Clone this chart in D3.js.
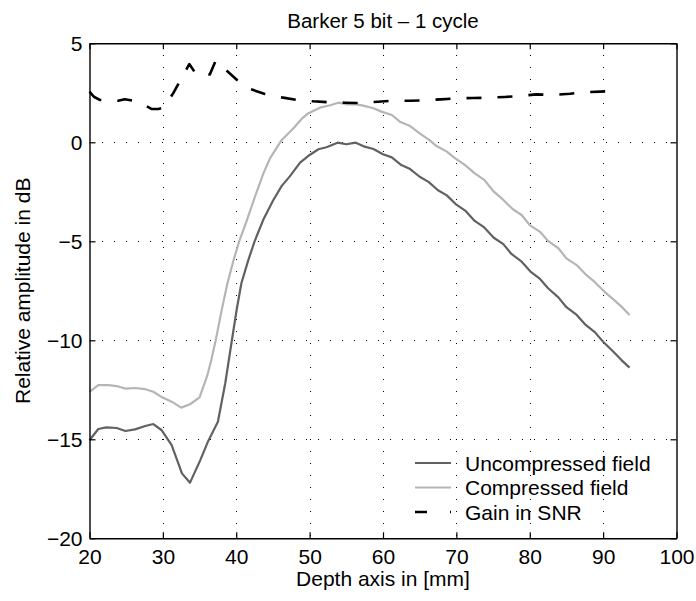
<!DOCTYPE html>
<html>
<head>
<meta charset="utf-8">
<script src="https://cdn.jsdelivr.net/npm/d3@7"></script>
<style>
  html, body { margin: 0; padding: 0; background: #fff; }
  svg { display: block; font-family: "Liberation Sans", Arial, Helvetica, sans-serif; }
</style>
</head>
<body>
<svg width="696" height="601"></svg>
<script>
// Series: [depth in mm, relative amplitude in dB]
const uncompressed = [
  [20, -15.05], [21.2, -14.48], [22.3, -14.4], [23.7, -14.43], [24.9, -14.58],
  [26.2, -14.5], [27.6, -14.33], [28.7, -14.23], [29.8, -14.53], [31.2, -15.29],
  [32.6, -16.72], [33.7, -17.19], [35.1, -16.05], [36.2, -15.07], [37.5, -14.11],
  [38.5, -12.17], [39.2, -10.49], [40.05, -8.47], [40.7, -7.12], [41.6, -6.0],
  [42.5, -5.0], [43.7, -3.9], [45.0, -2.95], [46.2, -2.2], [47.3, -1.72],
  [48.7, -1.03], [50.0, -0.64], [51.2, -0.35], [52.3, -0.25], [53.8, -0.02],
  [55.0, -0.1], [56.3, -0.02], [57.5, -0.22], [58.7, -0.34], [60.0, -0.6],
  [61.2, -0.76], [62.5, -1.15], [63.7, -1.35], [65.0, -1.74], [66.2, -2.0],
  [67.5, -2.42], [68.7, -2.68], [70.0, -3.15], [71.2, -3.45], [72.5, -3.97],
  [73.8, -4.3], [75.1, -4.82], [76.4, -5.14], [77.5, -5.64], [78.9, -6.03],
  [80.1, -6.53], [81.4, -6.9], [82.5, -7.37], [83.9, -7.83], [85.0, -8.33],
  [86.4, -8.72], [87.5, -9.18], [88.9, -9.6], [90.0, -10.07], [91.4, -10.58],
  [92.5, -11.0], [93.6, -11.38]
];

const compressed = [
  [20, -12.6], [21.2, -12.26], [22.6, -12.26], [23.7, -12.31], [24.9, -12.44],
  [26.2, -12.41], [27.6, -12.47], [28.7, -12.6], [29.9, -12.88], [31.2, -13.1],
  [32.5, -13.4], [33.7, -13.23], [35.0, -12.88], [36.0, -11.84], [36.6, -11.0],
  [37.2, -10.0], [38.0, -8.5], [38.8, -7.12], [39.6, -6.0], [40.4, -5.0],
  [41.3, -4.09], [42.5, -2.8], [43.7, -1.57], [44.6, -0.81], [46.2, 0.12],
  [47.8, 0.71], [48.9, 1.18], [49.8, 1.46], [51.4, 1.75], [52.8, 1.87],
  [53.9, 2.0], [55.0, 1.92], [56.2, 1.93], [57.3, 1.85], [58.7, 1.72],
  [59.8, 1.55], [61.2, 1.38], [62.3, 1.04], [63.7, 0.82], [65.0, 0.45],
  [66.2, 0.15], [67.3, -0.19], [68.7, -0.47], [69.8, -0.8], [71.2, -1.15],
  [72.5, -1.57], [73.8, -1.9], [75.0, -2.45], [76.4, -2.91], [77.7, -3.38],
  [78.9, -3.67], [80.0, -4.18], [81.4, -4.52], [82.5, -4.98], [83.9, -5.35],
  [85.0, -5.86], [86.4, -6.2], [87.7, -6.7], [88.8, -7.04], [90.2, -7.55],
  [91.4, -7.93], [92.5, -8.3], [93.6, -8.72]
];

const gainSNR = [
  [20, 2.56], [20.6, 2.3], [21.4, 2.14], [22.6, 2.1], [23.9, 2.1], [24.8, 2.17],
  [26.1, 2.09], [27.4, 1.9], [28.5, 1.68], [29.4, 1.68], [30.1, 1.75],
  [31.4, 2.47], [32.4, 3.15], [33.6, 3.95], [34.6, 3.4], [36.4, 3.43],
  [37.2, 4.12], [38.5, 3.69], [40.1, 3.15], [42.0, 2.68], [43.9, 2.44],
  [46.2, 2.27], [48.2, 2.14], [50.5, 2.07], [52.8, 2.02], [54.8, 2.0],
  [56.8, 1.98], [59.3, 2.05], [61.4, 2.1], [63.7, 2.1], [65.7, 2.12],
  [67.9, 2.17], [70.0, 2.22], [72.3, 2.24], [74.3, 2.25], [76.6, 2.29],
  [78.7, 2.34], [80.9, 2.42], [83.0, 2.39], [85.5, 2.45], [87.3, 2.53],
  [89.6, 2.56], [91.8, 2.6]
];

const xTicks = [20, 30, 40, 50, 60, 70, 80, 90, 100];
const yTicks = [-20, -15, -10, -5, 0, 5];

const seriesNames = ["Uncompressed field", "Compressed field", "Gain in SNR"];
const seriesData = [uncompressed, compressed, gainSNR];

// chart dimensions
const width = 696;
const height = 601;
const margin = { top: 43.3, right: 19.5, bottom: 62.7, left: 89.5 };

const x = d3.scaleLinear([20, 100], [margin.left, width - margin.right]);
const y = d3.scaleLinear([-20, 5], [height - margin.bottom, margin.top]);

const styles = [
  { stroke: "#616161", width: 2.2, dash: null },
  { stroke: "#b5b5b5", width: 2.2, dash: null },
  { stroke: "#000", width: 2.6, dash: "15,16" }
];

const svg = d3.select("svg");

// dotted grid
const grid = svg.append("g").attr("stroke", "#000").attr("stroke-width", 1)
  .attr("stroke-dasharray", "1,11").attr("shape-rendering", "crispEdges");
grid.selectAll("line.v").data(xTicks.slice(1, -1)).join("line")
  .attr("class", "v")
  .attr("x1", d => Math.round(x(d)) + 0.5).attr("x2", d => Math.round(x(d)) + 0.5)
  .attr("y1", y(5)).attr("y2", y(-20));
grid.selectAll("line.h").data(yTicks.slice(1, -1)).join("line")
  .attr("class", "h")
  .attr("y1", d => Math.round(y(d)) + 0.5).attr("y2", d => Math.round(y(d)) + 0.5)
  .attr("x1", x(20)).attr("x2", x(100));

// the curves
const line = d3.line().x(d => x(d[0])).y(d => y(d[1]));
svg.append("g").selectAll("path").data(seriesData).join("path")
  .attr("d", line)
  .attr("fill", "none")
  .attr("stroke", (d, i) => styles[i].stroke)
  .attr("stroke-width", (d, i) => styles[i].width)
  .attr("stroke-dasharray", (d, i) => styles[i].dash)
  .attr("stroke-linejoin", "round");

// axes, ticks pointing inward on all four sides
function styleAxis(g) {
  g.selectAll(".domain").attr("stroke", "#000").attr("stroke-width", 1.4);
  g.selectAll(".tick line").attr("stroke", "#000").attr("stroke-width", 1.2);
  g.selectAll(".tick text").attr("fill", "#000").attr("font-size", 21);
  g.attr("font-family", null);
}

svg.append("g")
  .attr("transform", `translate(0,${y(-20)})`)
  .call(d3.axisBottom(x).tickValues(xTicks).tickSize(-6).tickSizeOuter(0).tickPadding(11))
  .call(styleAxis);
svg.append("g")
  .attr("transform", `translate(0,${y(5)})`)
  .call(d3.axisTop(x).tickValues(xTicks).tickSize(-6).tickSizeOuter(0).tickFormat(""))
  .call(styleAxis);
svg.append("g")
  .attr("transform", `translate(${x(20)},0)`)
  .call(d3.axisLeft(y).tickValues(yTicks).tickSize(-6).tickSizeOuter(0).tickPadding(7))
  .call(styleAxis);
svg.append("g")
  .attr("transform", `translate(${x(100)},0)`)
  .call(d3.axisRight(y).tickValues(yTicks).tickSize(-6).tickSizeOuter(0).tickFormat(""))
  .call(styleAxis);

// title and labels
svg.append("text")
  .attr("x", (x(20) + x(100)) / 2).attr("y", 27.5)
  .attr("text-anchor", "middle").attr("font-size", 20.5)
  .text("Barker 5 bit \u2013 1 cycle");
svg.append("text")
  .attr("x", (x(20) + x(100)) / 2).attr("y", 586)
  .attr("text-anchor", "middle").attr("font-size", 21)
  .text("Depth axis in [mm]");
svg.append("text")
  .attr("transform", `translate(30,${(y(5) + y(-20)) / 2}) rotate(-90)`)
  .attr("text-anchor", "middle").attr("font-size", 21)
  .text("Relative amplitude in dB");

// legend (no box)
const legend = svg.append("g").attr("transform", "translate(415,463)");
const row = legend.selectAll("g").data(seriesNames).join("g")
  .attr("transform", (d, i) => `translate(0,${i * 24.5})`);
row.append("line")
  .attr("x1", 0).attr("x2", 36).attr("y1", 0).attr("y2", 0)
  .attr("stroke", (d, i) => styles[i].stroke)
  .attr("stroke-width", (d, i) => styles[i].width)
  .attr("stroke-dasharray", (d, i) => (styles[i].dash ? "12,23,2" : null));
row.append("text")
  .attr("x", 50).attr("y", 0).attr("dy", "0.36em")
  .attr("font-size", 21)
  .text(d => d);
</script>
</body>
</html>
